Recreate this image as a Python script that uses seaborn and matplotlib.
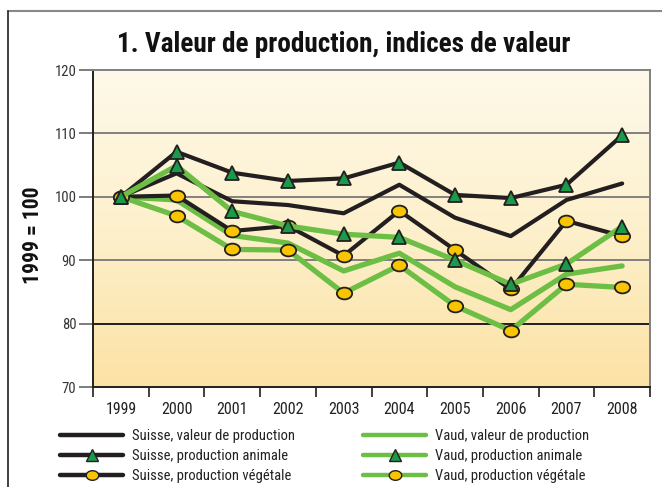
import numpy as np
import pandas as pd
import matplotlib
matplotlib.use('Agg')
import matplotlib.pyplot as plt
from matplotlib.path import Path
from matplotlib.lines import Line2D
from matplotlib.colors import LinearSegmentedColormap
import seaborn as sns

years = ['1999', '2000', '2001', '2002', '2003', '2004', '2005', '2006', '2007', '2008']

suisse_valeur = [100, 103.7, 99.3, 98.7, 97.4, 101.9, 96.7, 93.8, 99.5, 102.1]
suisse_animale = [100, 107.1, 103.8, 102.5, 102.9, 105.4, 100.3, 99.8, 101.9, 109.7]
suisse_vegetale = [100, 100.2, 94.6, 95.4, 90.7, 97.8, 91.6, 85.4, 96.2, 93.8]
vaud_valeur = [100, 99.5, 93.9, 92.7, 88.3, 91.1, 85.8, 82.2, 87.8, 89.1]
vaud_animale = [100, 104.9, 97.7, 95.4, 94.1, 93.6, 90.0, 86.2, 89.4, 95.3]
vaud_vegetale = [100, 97.0, 91.7, 91.6, 84.8, 89.2, 82.8, 78.9, 86.2, 85.7]

labels = ['Suisse, valeur de production', 'Suisse, production animale',
          'Suisse, production végétale', 'Vaud, valeur de production',
          'Vaud, production animale', 'Vaud, production végétale']
yticks = [70, 80, 90, 100, 110, 120]

sns.set_theme(style='white')
plt.rcParams['font.family'] = ['Roboto Condensed', 'Liberation Sans Narrow',
                               'Open Sans Condensed', 'Roboto', 'DejaVu Sans']
plt.rcParams['font.stretch'] = 'condensed'

BLACK = '#231f20'
GREEN = '#6cbe45'
TRI = '#1a9a4a'
YEL = '#f9c400'

circ = Path.unit_circle()
ellipse = Path(circ.vertices * np.array([1.3, 1.0]), circ.codes)

fig = plt.figure(figsize=(6.62, 4.87), dpi=100)
renderer = fig.canvas.get_renderer()


def size_for(txt, width, weight='normal', base=12):
    # taille de police pour obtenir une largeur donnée en pixels
    t = fig.text(0, 0, txt, fontsize=base, fontweight=weight)
    w = t.get_window_extent(renderer).width
    t.remove()
    return base * width / w


ax = fig.add_axes([93 / 662, 1 - 387 / 487, 557 / 662, 317 / 487])

x = np.arange(len(years))
ax.set_xlim(-0.5, len(years) - 0.5)
ax.set_ylim(70, 120)

# fond en dégradé
cmap = LinearSegmentedColormap.from_list('bg', ['#fce2a4', '#fdf0cc', '#fef9ea'])
grad = np.linspace(0, 1, 256).reshape(-1, 1)
ax.imshow(grad, aspect='auto', cmap=cmap, origin='lower',
          extent=(-0.5, len(years) - 0.5, 70, 120), zorder=0)

for v in [90, 100, 110]:
    ax.axhline(v, color='#808080', lw=1.4, zorder=1)
ax.axhline(80, color='#231f20', lw=1.4, zorder=1)

# (valeurs, couleur, épaisseur, marqueur, remplissage, taille, zorder)
series = [
    (suisse_valeur, BLACK, 3.0, None, None, 10, 3),
    (suisse_animale, BLACK, 3.0, '^', TRI, 10, 7),
    (suisse_vegetale, BLACK, 3.0, ellipse, YEL, 11, 5),
    (vaud_valeur, GREEN, 3.8, None, None, 10, 4),
    (vaud_animale, GREEN, 3.8, '^', TRI, 10, 8),
    (vaud_vegetale, GREEN, 3.8, ellipse, YEL, 11, 6),
]
handles = []
for vals, col, lw, mk, fc, ms, z in series:
    df = pd.DataFrame({'x': x, 'y': vals})
    kw = dict(color=col, lw=lw, zorder=z)
    if mk is not None:
        kw.update(marker=mk, markersize=ms, markerfacecolor=fc,
                  markeredgecolor=BLACK, markeredgewidth=1.3)
    sns.lineplot(data=df, x='x', y='y', ax=ax, **kw)
    hk = {k: v for k, v in kw.items() if k != 'zorder'}
    hk['lw'] = 3.2
    if mk is not None:
        hk['markersize'] = ms - 2
        hk['markeredgewidth'] = 1.0
    handles.append(Line2D([], [], **hk))

ax.set_xticks(np.arange(len(years) + 1) - 0.5)
ax.set_xticklabels([])
ax.set_xticks(x, minor=True)
ax.set_xticklabels(years, minor=True, fontsize=11.5)
ax.tick_params(axis='x', which='major', bottom=True, length=7, width=1.2, color=BLACK)
ax.tick_params(axis='x', which='minor', bottom=True, length=0, pad=11, labelcolor='#222222')
ax.set_yticks(yticks)
ax.set_yticklabels(yticks, fontsize=10.5, color='#333333')
ax.tick_params(axis='y', left=True, length=10, width=1.2, color='#666666', pad=2)
ax.set_xlabel('')
ax.set_ylabel('')

ax.spines['left'].set_color(BLACK)
ax.spines['bottom'].set_color(BLACK)
ax.spines['top'].set_color('#808080')
ax.spines['right'].set_color('#808080')
for s in ax.spines.values():
    s.set_linewidth(1.4)

title = '1. Valeur de production, indices de valeur'
fig.text(344 / 662, 1 - 45 / 487, title, ha='center', va='center',
         fontsize=size_for(title, 456, 'bold'), fontweight='bold', color='#111111')
fig.text(33 / 662, 1 - 235 / 487, '1999 = 100', rotation=90, ha='center', va='center',
         fontsize=size_for('1999 = 100', 97, 'bold'), fontweight='bold', color='#111111')

leg_size = 10.5
handle_len = 63 / (leg_size * 100 / 72)
leg_kw = dict(frameon=False, loc='upper left', borderpad=0, borderaxespad=0,
              fontsize=leg_size, handlelength=handle_len, handletextpad=0.6,
              labelspacing=0.42)
leg1 = fig.legend(handles=handles[:3], labels=labels[:3],
                  bbox_to_anchor=(60 / 662, 1 - 429 / 487), **leg_kw)
leg2 = fig.legend(handles=handles[3:], labels=labels[3:],
                  bbox_to_anchor=(363 / 662, 1 - 429 / 487), **leg_kw)
for lg in (leg1, leg2):
    for t in lg.get_texts():
        t.set_color('#222222')

# cadre
fig.add_artist(Line2D([8 / 662, 1], [1 - 11 / 487, 1 - 11 / 487], color='#888888', lw=1.5))
fig.add_artist(Line2D([8 / 662, 8 / 662], [0, 1 - 11 / 487], color=BLACK, lw=1.2))

fig.savefig('out.png', dpi=100)
